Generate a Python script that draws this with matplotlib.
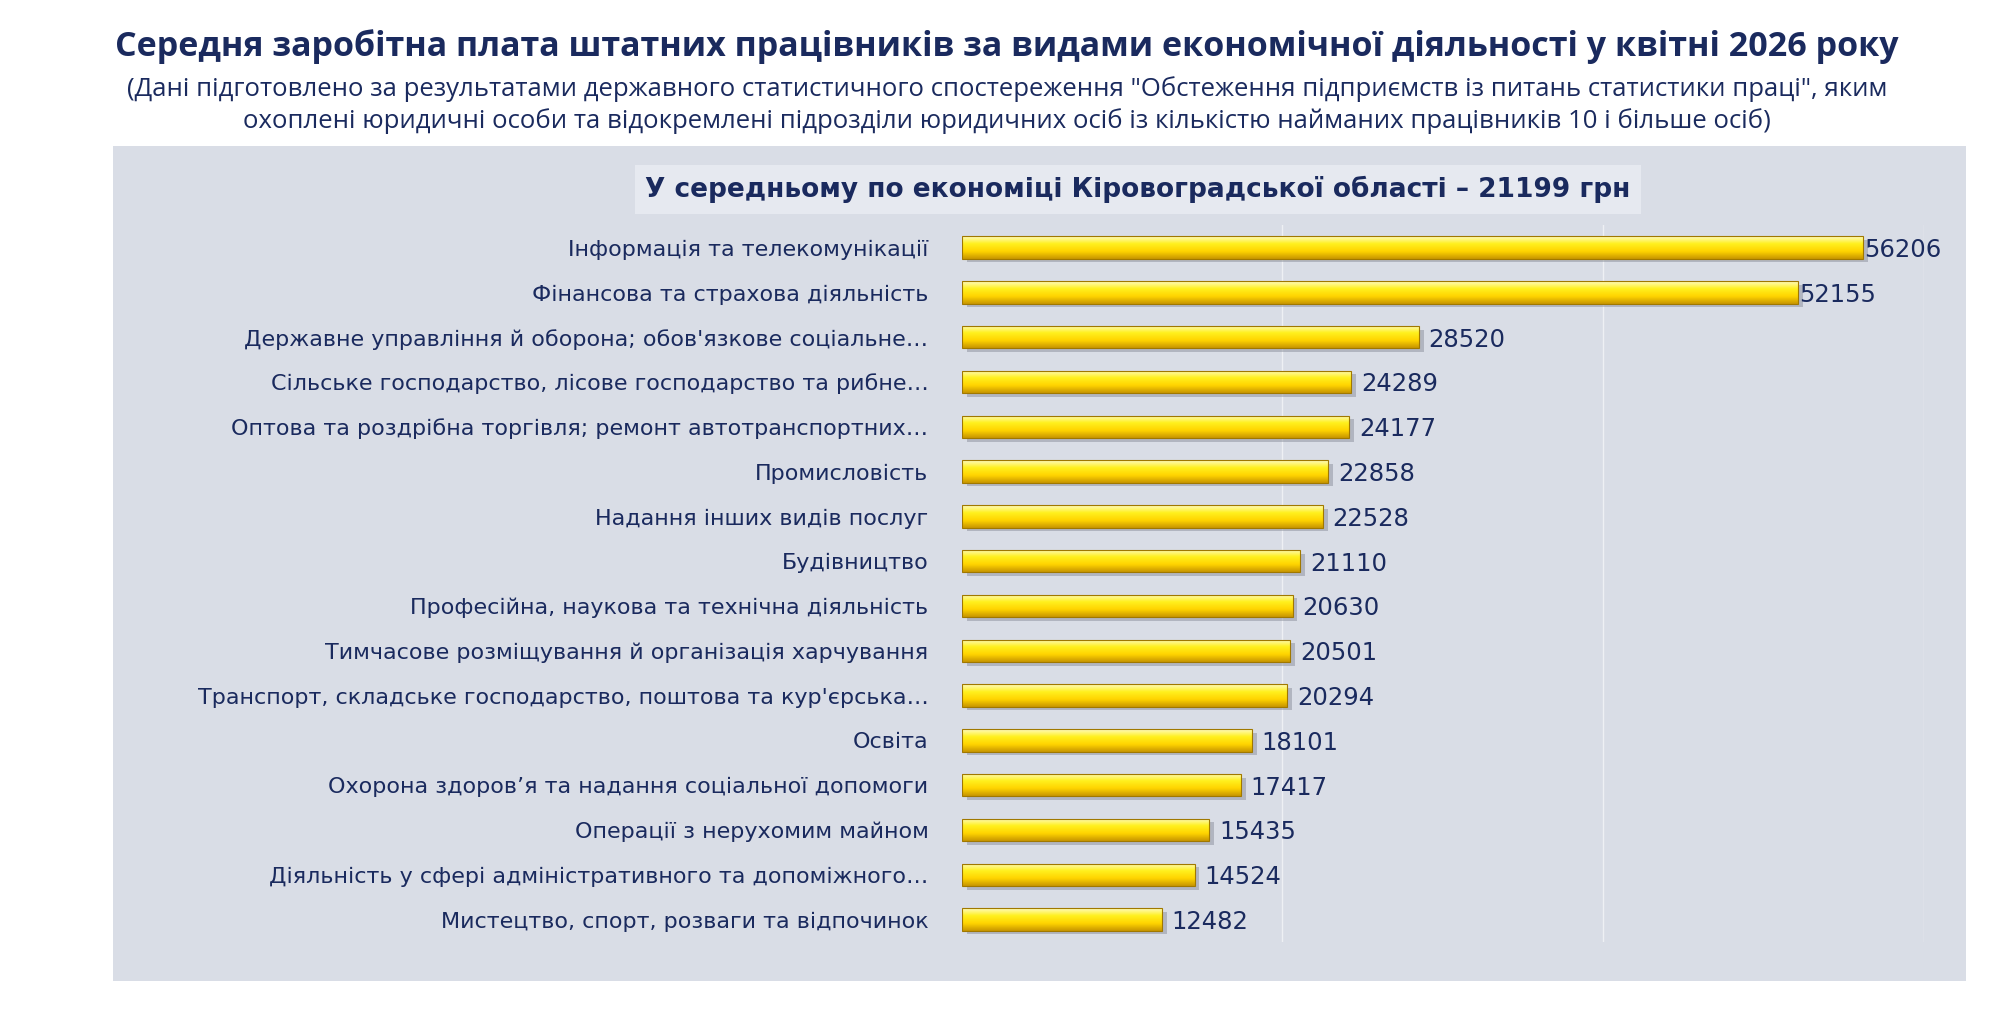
import matplotlib.pyplot as plt
import numpy as np
from matplotlib.patches import Rectangle
from matplotlib.colors import LinearSegmentedColormap

categories = [
    "Інформація та телекомунікації",
    "Фінансова та страхова діяльність",
    "Державне управління й оборона; обов'язкове соціальне…",
    "Сільське господарство, лісове господарство та рибне…",
    "Оптова та роздрібна торгівля; ремонт автотранспортних…",
    "Промисловість",
    "Надання інших видів послуг",
    "Будівництво",
    "Професійна, наукова та технічна діяльність",
    "Тимчасове розміщування й організація харчування",
    "Транспорт, складське господарство, поштова та кур'єрська…",
    "Освіта",
    "Охорона здоров’я та надання соціальної допомоги",
    "Операції з нерухомим майном",
    "Діяльність у сфері адміністративного та допоміжного…",
    "Мистецтво, спорт, розваги та відпочинок",
]
values = [56206, 52155, 28520, 24289, 24177, 22858, 22528, 21110,
          20630, 20501, 20294, 18101, 17417, 15435, 14524, 12482]

navy = "#1a2a5e"
plt.rcParams['font.family'] = ['Open Sans', 'DejaVu Sans']

fig = plt.figure(figsize=(20.14, 10.24), dpi=100)
fig.patch.set_facecolor("white")

# gray panel
fig.add_artist(Rectangle((0.056, 0.042), 0.920, 0.815, transform=fig.transFigure,
                         facecolor="#d9dde6", edgecolor="none", zorder=0))

fig.text(0.5, 0.955, "Середня заробітна плата штатних працівників за видами економічної діяльності у квітні 2026 року",
         ha="center", va="center", fontsize=24.5, fontweight="bold", color=navy)
fig.text(0.5, 0.897, "(Дані підготовлено за результатами державного статистичного спостереження \"Обстеження підприємств із питань статистики праці\", яким\n"
         "охоплені юридичні особи та відокремлені підрозділи юридичних осіб із кількістю найманих працівників 10 і більше осіб)",
         ha="center", va="center", fontsize=18.5, color=navy, linespacing=1.3)
fig.text(0.565, 0.815, "У середньому по економіці Кіровоградської області – 21199 грн",
         ha="center", va="center", fontsize=19, fontweight="bold", color=navy,
         family=['DejaVu Sans'],
         bbox=dict(boxstyle="square,pad=0.4", facecolor="#e6e9f0", edgecolor="none"))

ax = fig.add_axes([0.4776, 0.08, 0.4775, 0.70])
ax.set_facecolor("none")
n = len(values)
y = np.arange(n)
for v in [20000, 40000, 60000]:
    ax.axvline(v, color="#eef0f4", lw=1, zorder=0)

grad = np.linspace(0, 1, 64).reshape(-1, 1)
cmap = LinearSegmentedColormap.from_list("gold", ["#fffbc0", "#fff01e", "#ffd400", "#c89600"])
h = 0.5
for yi, v in zip(y, values):
    # shadow
    ax.add_patch(Rectangle((300, yi - h / 2 + 0.08), v, h, facecolor="#8a8f9c", alpha=0.5,
                           edgecolor="none", zorder=1))
    im = ax.imshow(grad, cmap=cmap, aspect="auto", extent=(0, v, yi + h / 2, yi - h / 2), zorder=2)
    r = Rectangle((0, yi - h / 2), v, h, facecolor="none", edgecolor="#a07800", lw=0.8, zorder=3)
    ax.add_patch(r)
    im.set_clip_path(r)
    ax.text(v + 600 if v < 50000 else v + 100, yi + 0.05, str(v), va="center", ha="left",
            fontsize=17.5, color=navy, family=['DejaVu Sans'], zorder=4)

ax.set_xlim(0, 60000)
ax.set_ylim(n - 0.5, -0.5)
ax.set_yticks(y)
ax.set_yticklabels(categories, fontsize=16, color=navy, family=['DejaVu Sans'])
ax.tick_params(axis="y", length=0, pad=24)
ax.set_xticks([])
for s in ax.spines.values():
    s.set_visible(False)

fig.savefig("out.png", dpi=100)
